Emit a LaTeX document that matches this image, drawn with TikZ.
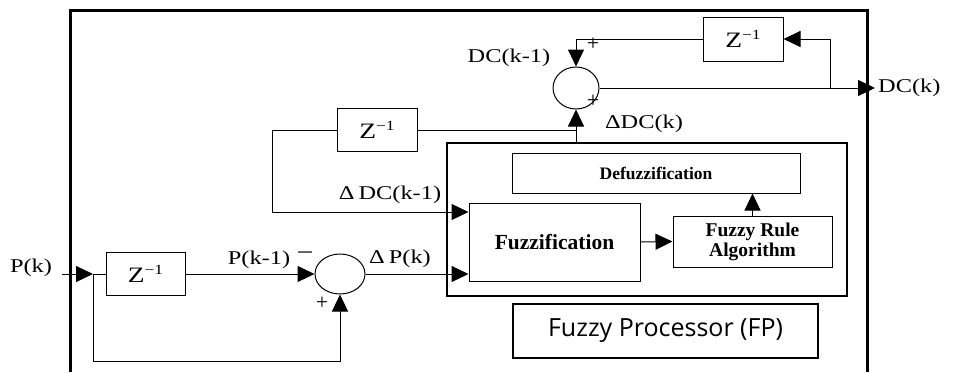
\documentclass[tikz,border=0pt]{standalone}
\usepackage{fontspec}
\setmainfont{Liberation Serif}
\newfontfamily\fpfont{Open Sans}
\usetikzlibrary{arrows.meta,shapes.geometric}
\newcommand{\wtxt}[1]{\scalebox{1.25}[1]{#1}}
\newcommand{\zinv}{\wtxt{Z\raisebox{0.75ex}{\fontsize{14}{14}\selectfont −1}}}
\begin{document}
\begin{tikzpicture}[x=1pt,y=-1pt,
  thin line/.style={line width=1pt},
  arr/.style={thin line,-{Triangle[length=17pt,width=16pt]}},
  blk/.style={draw,thin line,inner sep=0pt,font=\fontsize{22}{24}\selectfont},
  sumc/.style={draw,thin line,ellipse,inner sep=0pt},
  lbl/.style={inner sep=0pt,font=\fontsize{19.5}{22}\selectfont},
  pl/.style={inner sep=0pt,font=\fontsize{22}{22}\selectfont}]
\useasboundingbox (0,0) rectangle (960,372);
\fill[white] (0,0) rectangle (960,372);
% outer frame
\draw[line width=3pt] (70,372) -- (70,10) -- (867,10) -- (867,372);
% blocks
\node[blk,minimum width=80pt,minimum height=44pt] (zt) at (743,39) {\zinv};
\node[sumc,minimum width=46pt,minimum height=42pt] (s1) at (576,88) {};
\node[blk,minimum width=80pt,minimum height=43pt] (zm) at (377,130) {\zinv};
\node[draw,line width=2pt,minimum width=400pt,minimum height=153pt,inner sep=0pt] (fp) at (647,219.5) {};
\node[blk,minimum width=288pt,minimum height=40pt,font=\fontsize{17.5}{20}\selectfont\bfseries] (defuz) at (656,173) {Defuzzification};
\node[blk,minimum width=171pt,minimum height=78pt,font=\fontsize{21.5}{22}\selectfont\bfseries] (fuzz) at (554.5,242) {Fuzzification};
\node[blk,minimum width=159pt,minimum height=51pt,align=center,font=\fontsize{19.5}{20}\selectfont\bfseries] (fra) at (752.5,241.5) {Fuzzy Rule\\Algorithm};
\node[draw,line width=1.5pt,minimum width=305pt,minimum height=54pt,inner sep=0pt,font=\fpfont\fontsize{25}{28}\selectfont] (fpl) at (665.5,331) {Fuzzy Processor (FP)\hspace{26pt}};
\node[blk,minimum width=79pt,minimum height=43pt] (zb) at (145.5,274) {\zinv};
\node[sumc,minimum width=50pt,minimum height=40pt] (s2) at (340,274) {};
% coordinates
\coordinate (dcout) at (875,88);
\coordinate (b1) at (830,88);
\coordinate (b2) at (576,130);
\coordinate (k1) at (272,212);
\coordinate (pin) at (62,274);
\coordinate (b3) at (93,274);
\coordinate (k2) at (93,361);
% connectors
\draw[arr] (s1.east) -- (dcout);
\draw[arr] (b1) |- (zt.east);
\draw[arr] (zt.west) -| (s1.north);
\draw[arr] (fp.north -| s1) -- (s1.south);
\draw[thin line] (b2) -- (zm.east);
\draw[arr] (zm.west) -| (k1) -- (k1 -| fuzz.west);
\draw[arr] (fuzz.east) -- (fra.west);
\draw[arr] (fra.north) -- (fra.north |- defuz.south);
\draw[arr] (pin) -- (b3);
\draw[thin line] (b3) -- (zb.west);
\draw[arr] (zb.east) -- (s2.west);
\draw[arr] (b3) -- (k2) -| (s2.south);
\draw[arr] (s2.east) -- (s2.east -| fuzz.west);
% labels
\node[lbl,anchor=west] (ldc) at (878,88) {\wtxt{DC(k)}};
\node[lbl] (ldck1) at (509,58) {\wtxt{DC(k-1)}};
\node[pl] (pa) at (593,44) {+};
\node[pl] (pb) at (593,101) {+};
\node[lbl] (lddc) at (644,124) {\wtxt{ΔDC(k)}};
\node[lbl] (lddc1) at (390,195) {\wtxt{Δ\,DC(k-1)}};
\node[lbl] (lpk) at (31,268) {\wtxt{P(k)}};
\node[lbl] (lpk1) at (259,260) {\wtxt{P(k-1)}};
\node[lbl,font=\fontsize{24}{24}\selectfont] (lm) at (305,256) {\wtxt{−}};
\node[lbl] (ldp) at (400,259) {\wtxt{Δ\,P(k)}};
\node[pl] (pc) at (322,303) {+};
\end{tikzpicture}
\end{document}
